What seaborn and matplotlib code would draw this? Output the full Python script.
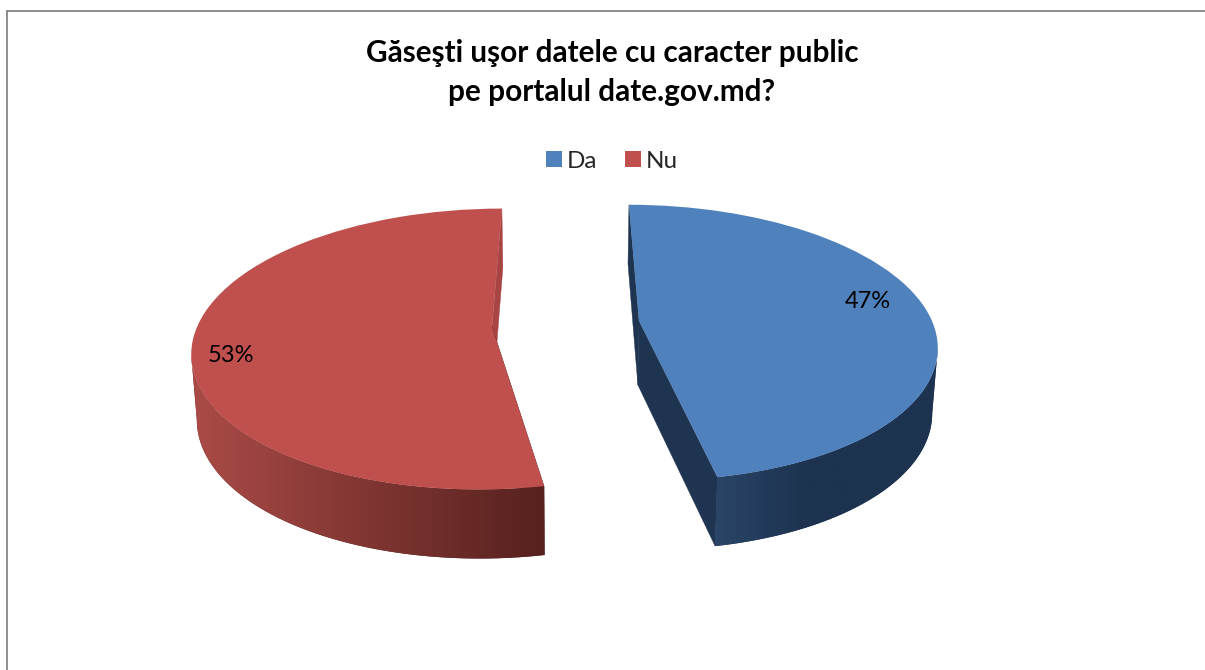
import numpy as np
import matplotlib
matplotlib.use("Agg")
import matplotlib.pyplot as plt
import matplotlib.transforms as mtransforms
from matplotlib.patches import Polygon
from matplotlib.colors import to_rgb
import seaborn as sns

# ---- data
categories = ["Da", "Nu"]
shares = [47, 53]
title_lines = ["Găseşti uşor datele cu caracter public", "pe portalul date.gov.md?"]

# ---- style
colors = ["#4F81BD", "#BF504D"]
back_colors = ["#1E3450", "#A84543"]
front_colors = ["#1E3450", "#5B2422"]
wall_colors = [("#2A4567", "#1D3350"), ("#AB4B47", "#56211E")]

sns.set_theme(style="white")
sns.set_palette(colors)
plt.rcParams["font.family"] = ["Lato", "DejaVu Sans"]

W, H = 1205, 670
LEFT, TOP = 6.5, 10.5
VP_X = 565          # vanishing axis of the perspective
K = 0.157
RX = [293, 295]
RY = [134.5, 137]
APEX_X = [639, 492]
APEX_Y = [321, 327]


class Perspective(mtransforms.Transform):
    """Unit-circle pie coordinates -> tilted 3-D pie slice, in pixels."""
    input_dims = output_dims = 2
    is_affine = False

    def __init__(self, i, lower=False):
        super().__init__()
        self.i, self.lower = i, lower

    def transform_non_affine(self, pts):
        pts = np.asarray(pts, float)
        i = self.i
        u, v = pts[:, 0], -pts[:, 1]
        d = 1 - K * v
        x = VP_X + (APEX_X[i] - VP_X + RX[i] * u) / d
        y = APEX_Y[i] + RY[i] * v / d
        if self.lower:
            x = VP_X + (x - VP_X) * 0.985
            y = y + 64 + 5 * v
        return np.column_stack([x, y])


fig = plt.figure(figsize=(W / 100, H / 100), dpi=100, facecolor="white")
ax = fig.add_axes([LEFT / W, 0, 1 - LEFT / W, 1 - TOP / H])

wedges, _, autotexts = ax.pie(
    shares, colors=colors, startangle=90, counterclock=False,
    autopct="%.0f%%", textprops={"fontsize": 17, "color": "black"},
    wedgeprops={"linewidth": 0},
)

for i, w in enumerate(wedges):
    top = Perspective(i)
    low = Perspective(i, lower=True)
    t = np.radians(np.linspace(w.theta1, w.theta2, 400))
    rim = np.column_stack([np.cos(t), np.sin(t)])
    rim_t, rim_b = top.transform(rim), low.transform(rim)
    c = np.array([[0.0, 0.0]])
    ct, cb = top.transform(c)[0], low.transform(c)[0]
    # flat faces of the cut: rim[0] is the front edge of the first slice, the back edge of the second
    back, front = (-1, 0) if i == 0 else (0, -1)
    ax.fill(*np.array([ct, rim_t[back], rim_b[back], cb]).T, color=back_colors[i], lw=0.3, zorder=1.2)
    ax.fill(*np.array([ct, rim_t[front], rim_b[front], cb]).T, color=front_colors[i], lw=0.3, zorder=1.2)
    # curved outer wall: only the part that faces the viewer, shaded across its width
    if i == 0:
        k = int(np.argmax(rim_t[:, 0]))
        vis_t, vis_b = rim_t[:k + 1], rim_b[:k + 1]
    else:
        k = int(np.argmin(rim_t[:, 0]))
        vis_t, vis_b = rim_t[k:], rim_b[k:]
    wall = np.vstack([vis_t, vis_b[::-1]])
    x0, x1 = wall[:, 0].min(), wall[:, 0].max()
    y0, y1 = wall[:, 1].min(), wall[:, 1].max()
    xs = np.linspace(x0, x1, 400)
    if i == 0:
        f = np.clip((xs - 716) / 90, 0, 1)
    else:
        f = (xs - x0) / (x1 - x0)
    a, b = np.array(to_rgb(wall_colors[i][0])), np.array(to_rgb(wall_colors[i][1]))
    grad = (a[None, :] + (b - a)[None, :] * f[:, None])[None, :, :]
    patch = Polygon(wall, closed=True, facecolor=wall_colors[i][1], edgecolor="none", zorder=1.4)
    ax.add_patch(patch)
    im = ax.imshow(grad, extent=[x0, x1, y1, y0], aspect="auto", zorder=1.5, interpolation="bilinear")
    im.set_clip_path(patch)
    w.set_transform(top + ax.transData)
    w.set_zorder(2)
    w.set_clip_on(False)

ax.set_aspect("auto")
ax.set_xlim(LEFT, W)
ax.set_ylim(H, TOP)
ax.set_xticks([])
ax.set_yticks([])
ax.set_frame_on(True)
for side, spine in ax.spines.items():
    spine.set_visible(side in ("top", "left"))
    spine.set_color("#868686")
    spine.set_linewidth(1.3)

autotexts[0].set_position((868, 301))
autotexts[1].set_position((231, 355))
for tx in autotexts:
    tx.set_ha("center")
    tx.set_va("center")
    tx.set_zorder(3)

leg = ax.legend(
    wedges, categories, ncol=2, loc="center",
    bbox_to_anchor=(612, 161), bbox_transform=ax.transData,
    frameon=False, fontsize=17.5, handlelength=0.65, handleheight=0.65,
    handletextpad=0.2, columnspacing=1.12, borderpad=0, borderaxespad=0,
)

fig.suptitle("\n".join(title_lines), x=612 / W, y=1 - 72.5 / H, ha="center", va="center",
             fontsize=21.4, fontweight="bold", color="black", linespacing=1.47)

fig.savefig("out.png", dpi=100, facecolor="white")
